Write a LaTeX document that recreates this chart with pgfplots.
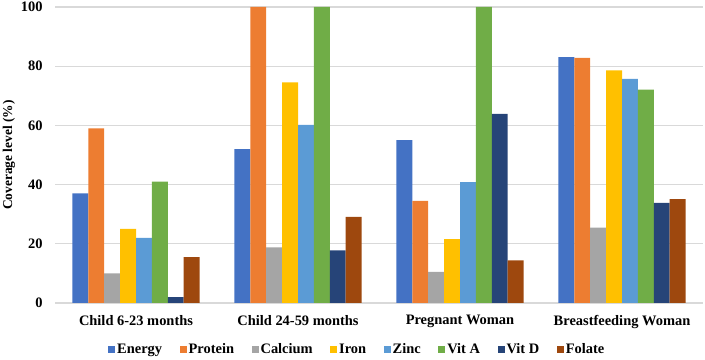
\documentclass[border=0pt]{standalone}
\usepackage{pgfplots}
\pgfplotsset{compat=1.18}
\usepackage{pgfplotstable}
\usepackage{fontspec}
\setmainfont{Liberation Serif}

\definecolor{cEnergy}{HTML}{4472C4}
\definecolor{cProtein}{HTML}{ED7D31}
\definecolor{cCalcium}{HTML}{A5A5A5}
\definecolor{cIron}{HTML}{FFC000}
\definecolor{cZinc}{HTML}{5B9BD5}
\definecolor{cVitA}{HTML}{70AD47}
\definecolor{cVitD}{HTML}{264478}
\definecolor{cFolate}{HTML}{9E480E}
\definecolor{gridgray}{HTML}{D9D9D9}

% Coverage level (%) of each nutrient, by population group
\pgfplotstableread{
grp Energy Protein Calcium Iron Zinc VitA VitD Folate
0   37.0   59.0    10.0    25.0 22.0 41.0 2.0  15.5
1   52.0   100.0   18.8    74.5 60.2 100.0 17.8 29.1
2   55.0   34.5    10.5    21.6 40.8 100.0 63.9 14.4
3   83.1   82.8    25.5    78.6 75.7 72.1 33.8 35.1
}\coverage

\newcommand{\lblfont}{\fontsize{14.5}{17}\selectfont\bfseries}
\newcommand{\ylblfont}{\fontsize{13.5}{16}\selectfont\bfseries}

\begin{document}
\begin{tikzpicture}
\path[use as bounding box] (-55bp,-57bp) rectangle (650bp,303bp);
\begin{axis}[
  scale only axis,
  width=648bp, height=296bp,
  xmin=-0.5, xmax=3.5,
  ymin=0, ymax=100,
  ytick={0,20,40,60,80,100},
  xtick={0,1,2,3},
  xticklabels={Child 6-23 months, Child 24-59 months, Pregnant Woman, Breastfeeding Woman},
  major tick length=0pt,
  axis line style={draw=none},
  ymajorgrids,
  grid style={gridgray, line width=1.2bp},
  /pgf/number format/assume math mode=true,
  tick label style={font=\lblfont},
  yticklabel style={xshift=-9bp},
  xticklabel style={yshift=-9bp},
  ylabel={Coverage level (\%)},
  ylabel style={font=\ylblfont, yshift=-1bp},
  ybar=0pt,
  bar width=15.9bp,
  legend columns=8,
  legend style={
    at={(0.0818,-0.157)}, anchor=west,
    draw=none, fill=none, inner sep=0pt,
    font=\lblfont,
    /tikz/every even column/.append style={column sep=15.5bp},
  },
  legend image code/.code={\fill[#1] (0bp,-3.5bp) rectangle (7bp,3.5bp);},
  every axis plot/.append style={draw=none},
]
\addplot[fill=cEnergy]  table[x=grp, y=Energy]  {\coverage};
\addplot[fill=cProtein] table[x=grp, y=Protein] {\coverage};
\addplot[fill=cCalcium] table[x=grp, y=Calcium] {\coverage};
\addplot[fill=cIron]    table[x=grp, y=Iron]    {\coverage};
\addplot[fill=cZinc]    table[x=grp, y=Zinc]    {\coverage};
\addplot[fill=cVitA]    table[x=grp, y=VitA]    {\coverage};
\addplot[fill=cVitD]    table[x=grp, y=VitD]    {\coverage};
\addplot[fill=cFolate]  table[x=grp, y=Folate]  {\coverage};
\legend{Energy, Protein, Calcium, Iron, Zinc, Vit A, Vit D, Folate}
\end{axis}
\end{tikzpicture}
\end{document}
